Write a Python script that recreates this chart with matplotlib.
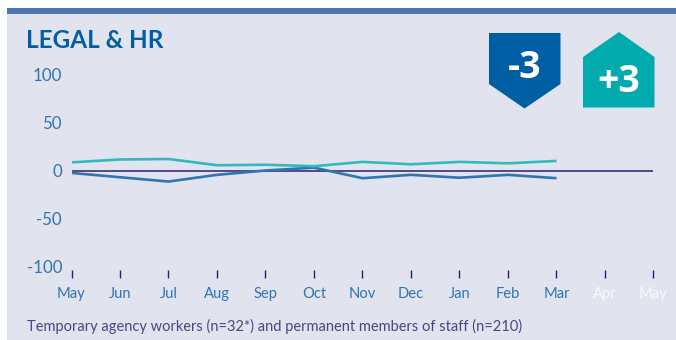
import matplotlib
matplotlib.use("Agg")
import matplotlib.pyplot as plt
from matplotlib.patches import Polygon, Rectangle
from matplotlib.transforms import ScaledTranslation

months = ["May", "Jun", "Jul", "Aug", "Sep", "Oct", "Nov", "Dec", "Jan", "Feb", "Mar", "Apr", "May"]
yticks = [-100, -50, 0, 50, 100]
temporary = [9, 12, 12.5, 6, 6.5, 5, 9.5, 7, 9.5, 8, 10.5]
permanent = [-2, -6.5, -11, -4, 0.5, 3.5, -7.5, -4, -7, -4, -7.5]
badge_down = "-3"
badge_up = "+3"
title = "LEGAL & HR"
footnote = "Temporary agency workers (n=32*) and permanent members of staff (n=210)"

W, H = 676, 340
BG = "#e1e3ef"
BLUE = "#005ea5"
LINE_BLUE = "#2f75b0"
TEAL = "#33b8bb"
NAVY = "#2b1f6b"
plt.rcParams["font.family"] = ["Lato", "DejaVu Sans"]

fig = plt.figure(figsize=(W / 100, H / 100), dpi=100, facecolor="white")
def px(points):
    return [(x / W, 1 - y / H) for x, y in points]

fig.add_artist(Rectangle((7 / W, 0), (W - 7) / W, 1 - 8 / H, transform=fig.transFigure, fc=BG, ec="none", zorder=-2))
fig.add_artist(Rectangle((7 / W, 1 - 13.5 / H), (W - 7) / W, 5.5 / H, transform=fig.transFigure, fc="#4f76b0", ec="none", zorder=-1))

ax = fig.add_axes([71.5 / W, 1 - 267 / H, (653.5 - 71.5) / W, 192 / H])
ax.patch.set_alpha(0)
ax.set_xlim(0, len(months) - 1)
ax.set_ylim(-100, 100)
for name, s in ax.spines.items():
    s.set_visible(False)
ax.spines["bottom"].set_position(("outward", 2.2))
ax.set_xticks(range(len(months)))
ax.set_xticklabels(months, fontsize=10.6)
for i, lab in enumerate(ax.get_xticklabels()):
    lab.set_color("white" if i >= 11 else LINE_BLUE)
    if i >= 11:
        lab.set_alpha(0.8)
ax.set_yticks(yticks)
ax.set_yticklabels([str(v) for v in yticks], fontsize=12.2, color=LINE_BLUE)
ax.tick_params(axis="y", length=0, pad=6.8)
ax.tick_params(axis="x", length=5.5, width=1, color=NAVY, pad=6.6)
shift_up = ScaledTranslation(0, 0.4 / 100, fig.dpi_scale_trans)
for lab in ax.get_yticklabels():
    lab.set_transform(lab.get_transform() + shift_up)
ax.axhline(0, color=NAVY, lw=1.1, zorder=1)
ax.plot(range(len(temporary)), temporary, color=TEAL, lw=1.9, zorder=3, solid_capstyle="butt")
ax.plot(range(len(permanent)), permanent, color=LINE_BLUE, lw=1.9, zorder=2, solid_capstyle="butt")

fig.add_artist(Polygon(px([(489, 33), (560.5, 33), (560.5, 84), (524.5, 108.5), (489, 84)]), closed=True, transform=fig.transFigure, fc=BLUE, ec="none"))
fig.add_artist(Polygon(px([(583, 57), (619, 32), (654.5, 57), (654.5, 107.5), (583, 107.5)]), closed=True, transform=fig.transFigure, fc="#00aaad", ec="none"))
fig.text(524.5 / W, 1 - 78 / H, badge_down, color="white", fontsize=27, fontweight="bold", family="Open Sans", ha="center", va="baseline")
fig.text(619 / W, 1 - 92 / H, badge_up, color="white", fontsize=27, fontweight="bold", family="Open Sans", ha="center", va="baseline")
fig.text(25.5 / W, 1 - 48 / H, title, color=BLUE, fontsize=17.5, fontweight="bold", ha="left", va="baseline")
fig.text(27 / W, 1 - 331 / H, footnote, color="#4b4583", fontsize=10.5, ha="left", va="baseline")
fig.savefig("out.png", dpi=100, facecolor="white")
